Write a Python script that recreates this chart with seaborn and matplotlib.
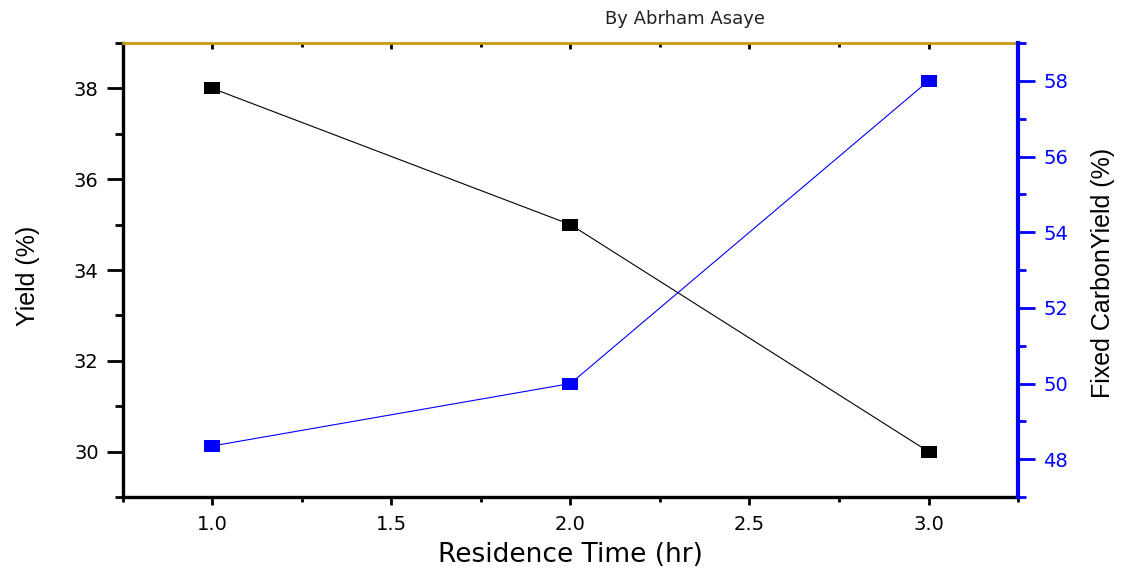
import matplotlib
matplotlib.use("Agg")
import matplotlib.pyplot as plt
from matplotlib.ticker import MultipleLocator
import pandas as pd
import seaborn as sns

# data
residence_time = [1.0, 2.0, 3.0]
yield_pct = [38.0, 35.0, 30.0]
fixed_carbon_yield = [48.35, 50.0, 58.0]

df = pd.DataFrame({"time": residence_time, "yield": yield_pct, "fc": fixed_carbon_yield})

sns.set_style("ticks")
plt.rcParams["font.family"] = ["DejaVu Sans"]

fig = plt.figure(figsize=(11.24, 5.69), dpi=100)
ax = fig.add_axes([0.1094, 0.1265, 0.7963, 0.7979])
ax2 = ax.twinx()

rect = [(-1.35, -1), (1.35, -1), (1.35, 1), (-1.35, 1), (-1.35, -1)]

sns.lineplot(data=df, x="time", y="yield", ax=ax, color="black", lw=0.8,
             marker=rect, markersize=11, markeredgewidth=0, markerfacecolor="black")
sns.lineplot(data=df, x="time", y="fc", ax=ax2, color="#0000ff", lw=0.8,
             marker=rect, markersize=11, markeredgewidth=0, markerfacecolor="#0000ff")

ax.set_xlim(0.75, 3.25)
ax.set_ylim(29, 39)
ax2.set_ylim(47, 59)

ax.xaxis.set_major_locator(MultipleLocator(0.5))
ax.xaxis.set_minor_locator(MultipleLocator(0.25))
ax.yaxis.set_major_locator(MultipleLocator(2))
ax.yaxis.set_minor_locator(MultipleLocator(1))
ax2.yaxis.set_major_locator(MultipleLocator(2))
ax2.yaxis.set_minor_locator(MultipleLocator(1))
ax.set_xticks([1.0, 1.5, 2.0, 2.5, 3.0])
ax.set_xticklabels(["1.0", "1.5", "2.0", "2.5", "3.0"])

# spines
for s in ["left", "bottom"]:
    ax.spines[s].set_linewidth(2.4)
    ax.spines[s].set_color("black")
ax.spines["top"].set_visible(True)
ax.spines["top"].set_color("#c99a10")
ax.spines["top"].set_linewidth(2)
ax.spines["right"].set_visible(False)
for s in ["left", "bottom", "top"]:
    ax2.spines[s].set_visible(False)
ax2.spines["right"].set_visible(True)
ax2.spines["right"].set_color("#0000ff")
ax2.spines["right"].set_linewidth(3)

ax.tick_params(axis="y", which="major", direction="out", length=11.5, width=2,
               labelsize=14, colors="black", pad=6)
ax.tick_params(axis="y", which="minor", direction="out", length=5.8, width=2, colors="black")
ax.tick_params(axis="x", which="major", direction="out", length=6, width=2,
               labelsize=14, colors="black", pad=7, top=True)
ax.tick_params(axis="x", which="minor", direction="out", length=3.5, width=2,
               colors="black", top=True)
ax2.tick_params(axis="y", which="major", direction="out", length=12, width=2,
                labelsize=14, colors="#0000ff", pad=6)
ax2.tick_params(axis="y", which="minor", direction="out", length=6, width=2, colors="#0000ff")

# top ticks point inward, short
for t in ax.xaxis.get_major_ticks():
    t.tick2line.set_markersize(4)
    t.tick2line.set_marker(3)
for t in ax.xaxis.get_minor_ticks():
    t.tick2line.set_markersize(3)
    t.tick2line.set_marker(3)

ax.set_xlabel("Residence Time (hr)", fontsize=19, labelpad=6, color="black")
ax.set_ylabel("Yield (%)", fontsize=18, color="black",
              family=["Liberation Sans", "DejaVu Sans"])
ax2.set_ylabel("Fixed CarbonYield (%)", fontsize=18, color="black",
               family=["Liberation Sans", "DejaVu Sans"])
ax.yaxis.set_label_coords(-0.093, 0.487)
ax2.yaxis.set_label_coords(1.082, 0.494)

fig.text(0.609, 0.966, "By Abrham Asaye", ha="center", va="center", fontsize=13, color="#222222")

fig.savefig("out.png", dpi=100)
